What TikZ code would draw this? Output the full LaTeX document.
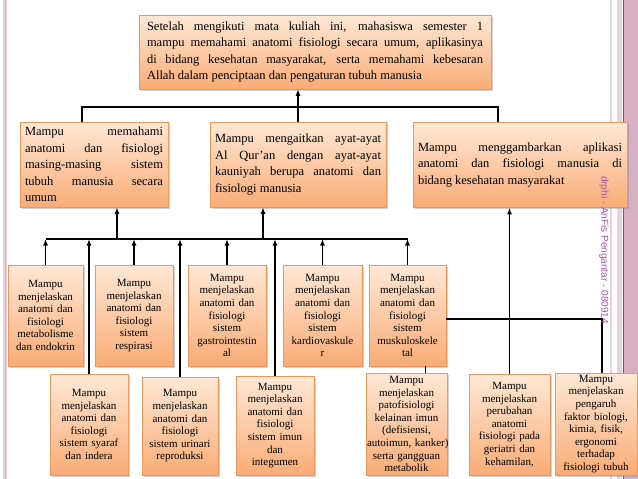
\documentclass[tikz,border=0pt]{standalone}
\usepackage{fontspec}
\setmainfont{Liberation Serif}
\newfontfamily\wmfont{Liberation Sans}
\usepackage{tikz}
\usetikzlibrary{arrows.meta,shadows}
\tolerance=9999
\hbadness=10000

\definecolor{peachtop}{RGB}{255,232,214}
\definecolor{peachbot}{RGB}{249,172,118}
\definecolor{peachline}{RGB}{236,152,92}
\definecolor{bandpink}{RGB}{234,208,219}
\definecolor{bandmauve}{RGB}{214,176,194}
\definecolor{bandline}{RGB}{168,62,100}
\definecolor{wmpurple}{RGB}{170,85,175}

\begin{document}
\begin{tikzpicture}[x=1pt, y=-1pt, > = {Latex[length=6.5pt, width=5pt]}, % pixel grid, y downwards
  box/.style={draw=peachline, line width=0.6pt, top color=peachtop, bottom color=peachbot,
    drop shadow={shadow xshift=1.5pt, shadow yshift=-1.5pt, opacity=0.35}},
  bigbox/.style={box, align=justify, inner xsep=5pt, inner ysep=2pt,
    font=\fontsize{12.5}{16.5}\selectfont, minimum height=85pt},
  smallbox/.style={box, align=center, inner xsep=1pt, inner ysep=1pt,
    font=\fontsize{11}{12.6}\selectfont},
  link/.style={line width=1.4pt}]
  \useasboundingbox (0,0) rectangle (638,479);
  \fill[white] (0,0) rectangle (638,479);
  \fill[bandpink] (3,0) rectangle (7,479);
  \draw[bandmauve, line width=0.6pt] (5,0) -- (5,479);
  \draw[bandpink, line width=1.5pt] (611,0) -- (611,479);
  \fill[bandpink] (617,0) rectangle (622,479);
  \draw[bandline, line width=0.8pt] (623,0) -- (623,479);
  \fill[bandmauve] (624,0) rectangle (638,479);

  \node[bigbox, text width=336pt, minimum width=352pt, minimum height=74pt] (T) at (315,52) {Setelah mengikuti mata kuliah ini, mahasiswa semester 1\linebreak mampu memahami anatomi fisiologi secara umum, aplikasinya\linebreak di bidang kesehatan masyarakat, serta memahami kebesaran\linebreak Allah dalam penciptaan dan pengaturan tubuh manusia};

  \node[bigbox, text width=138pt, minimum width=148pt] (M1) at (94,164.5) {Mampu memahami\linebreak anatomi dan fisiologi\linebreak masing-masing sistem\linebreak tubuh manusia secara\linebreak umum};
  \node[bigbox, text width=166pt, minimum width=176pt] (M2) at (298,164.5) {Mampu mengaitkan ayat-ayat\linebreak Al Qur'an dengan ayat-ayat\linebreak kauniyah berupa anatomi dan\linebreak fisiologi manusia};
  \node[bigbox, text width=204pt, minimum width=214pt] (M3) at (520,165) {Mampu menggambarkan aplikasi\linebreak anatomi dan fisiologi manusia di\linebreak bidang kesehatan masyarakat};

  \node[smallbox, text width=73pt, minimum height=101pt] (S1) at (45.5,315.5) {Mampu\\ menjelaskan\\ anatomi dan\\ fisiologi\\ metabolisme\\ dan endokrin};
  \node[smallbox, text width=76pt, minimum height=101pt] (S2) at (134,315.5) {Mampu\\ menjelaskan\\ anatomi dan\\ fisiologi\\ sistem\\ respirasi};
  \node[smallbox, text width=76pt, minimum height=101pt] (S3) at (227,315.5) {Mampu\\ menjelaskan\\ anatomi dan\\ fisiologi\\ sistem\\ gastrointestin\\ al};
  \node[smallbox, text width=77pt, minimum height=101pt] (S4) at (322.5,315.5) {Mampu\\ menjelaskan\\ anatomi dan\\ fisiologi\\ sistem\\ kardiovaskule\\ r};
  \node[smallbox, text width=75pt, minimum height=101pt] (S5) at (407.5,315.5) {Mampu\\ menjelaskan\\ anatomi dan\\ fisiologi\\ sistem\\ muskuloskele\\ tal};

  \node[smallbox, text width=76pt, minimum height=101pt] (B1) at (89,424.5) {Mampu\\ menjelaskan\\ anatomi dan\\ fisiologi\\ sistem syaraf\\ dan indera};
  \node[smallbox, text width=74pt, minimum height=98pt] (B2) at (180,426) {Mampu\\ menjelaskan\\ anatomi dan\\ fisiologi\\ sistem urinari\\ reproduksi};
  \node[smallbox, text width=76pt, minimum height=99pt] (B3) at (275,425.5) {Mampu\\ menjelaskan\\ anatomi dan\\ fisiologi\\ sistem imun\\ dan\\ integumen};
  \node[smallbox, text width=79pt, minimum height=102pt] (B4) at (406.5,424) {Mampu\\ menjelaskan\\ patofisiologi\\ kelainan imun\\ (defisiensi,\\ \mbox{autoimun, kanker)}\\ serta gangguan\\ metabolik};
  \node[smallbox, text width=79pt, minimum height=101pt] (B5) at (509.5,424.5) {Mampu\\ menjelaskan\\ perubahan\\ anatomi\\ fisiologi pada\\ geriatri dan\\ kehamilan,};
  \node[smallbox, text width=80pt, minimum height=102pt] (B6) at (596,424) {Mampu\\ menjelaskan\\ pengaruh\\ faktor biologi,\\ kimia, fisik,\\ ergonomi\\ terhadap\\ fisiologi tubuh};

  \coordinate (K1) at (82,107);
  \coordinate (K3) at (498,107);
  \coordinate (J1) at (117,239);
  \coordinate (J2) at (263,239);

  % upper level
  \draw[link] (K1 |- M1.north) -- (K1) -- (K3) -- (K3 |- M3.north);
  \path[link, ->] (M2.north) edge (M2.north |- T.south);

  % middle level
  \draw[link] (S1.north |- J1) -- (S5.north |- J1);
  \path[link, ->] (J1) edge (J1 |- M1.south);
  \path[link, ->] (J2) edge (J2 |- M2.south);
  \path[link, ->] (S1.north) edge (S1.north |- J1);
  \path[link, ->] (S2.north) edge (S2.north |- J1);
  \path[link, ->] (S3.north) edge (S3.north |- J1);
  \path[link, ->] (S4.north) edge (S4.north |- J1);
  \path[link, ->] (S5.north) edge (S5.north |- J1);
  \path[link, ->] (B1.north) edge (B1.north |- J1);
  \path[link, ->] (B2.north) edge (B2.north |- J1);
  \path[link, ->] (B3.north) edge (B3.north |- J1);

  % right branch
  \path[link, ->] (B5.north) edge (B5.north |- M3.south);
  \draw[link] ([xshift=18pt]S5.south) -- ([xshift=18pt]S5.south |- B4.north);
  \draw[link] ([yshift=-3.5pt]S5.east) -| ([xshift=6pt]B6.north);

  \node[rotate=-90, text=wmpurple, font=\wmfont\fontsize{10}{12}\selectfont] (W) at (604,250) {drphi - AnFis Pengantar - 080914};
\end{tikzpicture}
\end{document}
